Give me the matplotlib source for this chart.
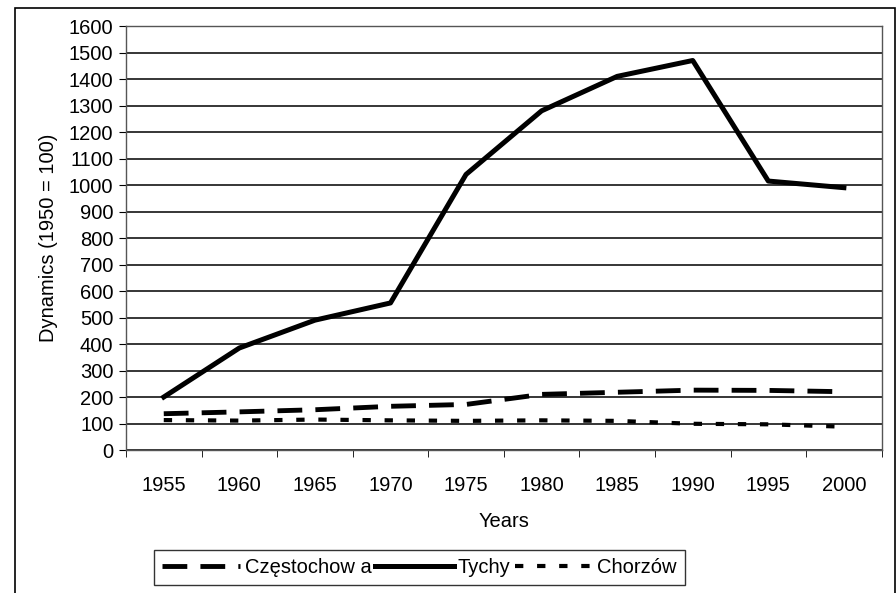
import numpy as np
import matplotlib.pyplot as plt
from matplotlib.patches import Rectangle

plt.rcParams['font.family'] = ['Liberation Sans', 'DejaVu Sans']

years = ['1955', '1960', '1965', '1970', '1975', '1980', '1985', '1990', '1995', '2000']
czestochowa = [137, 144, 152, 165, 172, 210, 218, 226, 225, 220]
tychy = [200, 385, 490, 555, 1040, 1280, 1410, 1470, 1015, 990]
chorzow = [113, 111, 115, 112, 110, 112, 110, 99, 97, 88]
yticks = list(range(0, 1601, 100))

fig = plt.figure(figsize=(8.96, 5.93), dpi=100)
ax = fig.add_axes([0.1406, 0.2411, 0.8434, 0.7150])

x = np.arange(len(years))
ax.plot(x, czestochowa, color='black', lw=3.5, dashes=(5.1, 2.7),
        dash_capstyle='butt', label='Częstochow a')
ax.plot(x, tychy, color='black', lw=3.6, label='Tychy')
ax.plot(x, chorzow, color='black', lw=3, dashes=(2.0, 3.3), dash_capstyle='butt',
        label='Chorzów')

ax.set_xlim(-0.5, len(years) - 0.5)
ax.set_ylim(0, 1600)
ax.set_yticks(yticks)
ax.set_xticks(x)
ax.set_xticklabels(years)
ax.set_xticks(np.arange(-0.5, len(years), 1.0), minor=True)
ax.tick_params(axis='x', which='major', length=0, pad=19, labelsize=14.5)
ax.tick_params(axis='x', which='minor', length=5, direction='out', color='black')
ax.tick_params(axis='y', length=5, direction='out', pad=4, labelsize=14.5)
ax.yaxis.grid(True, color='black', lw=1.1)
ax.set_axisbelow(True)
for s in ax.spines.values():
    s.set_color('#555555')
    s.set_linewidth(1.0)

ax.set_xlabel('Years', fontsize=14.5, labelpad=12)
ax.set_ylabel('Dynamics (1950 = 100)', fontsize=14.5, labelpad=8)

leg = fig.legend(loc='center', bbox_to_anchor=(0.468, 0.043), ncol=3, fontsize=14.5,
                 frameon=True, fancybox=False, edgecolor='black', handlelength=3.9,
                 handletextpad=0.2, columnspacing=0.2, borderpad=0.4)
leg.get_frame().set_linewidth(1.0)

# outer chart frame
fig.patches.append(Rectangle((15 / 896, -0.05), 880 / 896, 1.05 - 8 / 593,
                             transform=fig.transFigure, fill=False,
                             edgecolor='black', lw=1.2))

fig.savefig('out.png', dpi=100)
